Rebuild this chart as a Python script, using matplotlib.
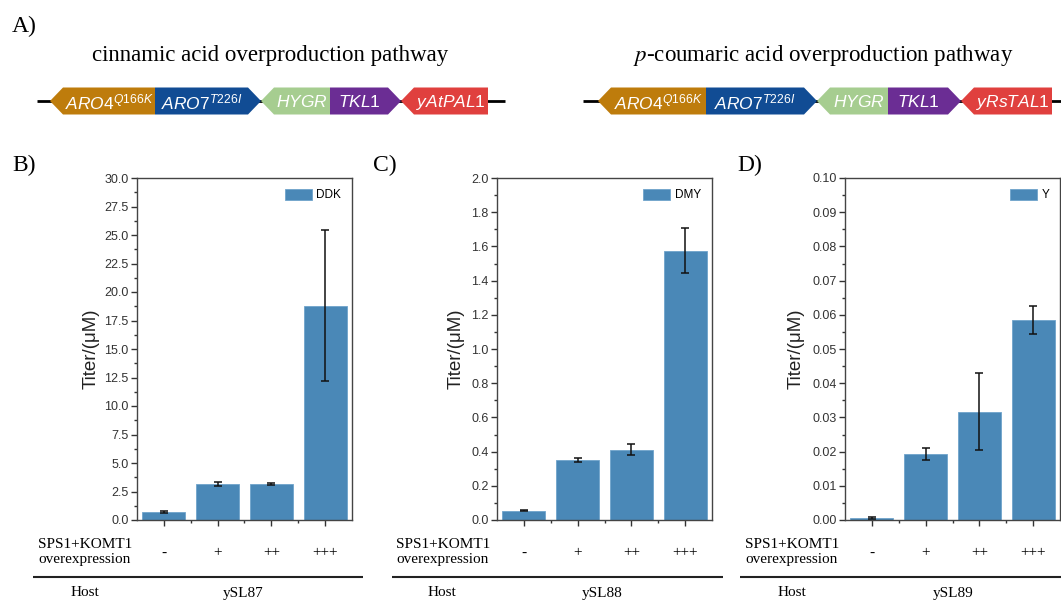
import matplotlib
matplotlib.use("Agg")
import matplotlib.pyplot as plt
from matplotlib.patches import Polygon
from matplotlib.ticker import MultipleLocator, FormatStrFormatter
import numpy as np

# ---------------- data ----------------
levels = ['-', '+', '++', '+++']
ddk_mean = [0.70, 3.15, 3.15, 18.8]
ddk_err = [0.10, 0.15, 0.12, 6.6]
dmy_mean = [0.055, 0.350, 0.410, 1.575]
dmy_err = [0.005, 0.010, 0.032, 0.130]
y_mean = [0.0005, 0.0193, 0.0317, 0.0585]
y_err = [0.0003, 0.0018, 0.0113, 0.0040]
hosts = ['ySL87', 'ySL88', 'ySL89']
products = ['DDK', 'DMY', 'Y']

gene_names_1 = [r'$\mathit{ARO4}^{\mathit{Q166K}}$', r'$\mathit{ARO7}^{\mathit{T226I}}$',
                r'$\mathit{HYGR}$', r'$\mathit{TKL1}$', r'$\mathit{yAtPAL1}$']
gene_names_2 = [r'$\mathit{ARO4}^{\mathit{Q166K}}$', r'$\mathit{ARO7}^{\mathit{T226I}}$',
                r'$\mathit{HYGR}$', r'$\mathit{TKL1}$', r'$\mathit{yRsTAL1}$']
gene_colors = ['#BE7C0C', '#114C94', '#A6CD90', '#6B2D94', '#E0403E']
gene_dirs = ['L', 'R', 'L', 'R', 'L']

# ---------------- style ----------------
plt.rcParams['font.family'] = ['Liberation Sans', 'DejaVu Sans']
plt.rcParams['mathtext.fontset'] = 'custom'
plt.rcParams['mathtext.it'] = 'Liberation Sans:italic'
plt.rcParams['mathtext.rm'] = 'Liberation Sans'
SERIF = ['Liberation Serif', 'DejaVu Serif']
BAR = '#4A88B7'
W, H = 1061, 602

fig = plt.figure(figsize=(W / 100, H / 100), dpi=100)

# overlay in pixel coordinates
ov = fig.add_axes([0, 0, 1, 1])
ov.set_xlim(0, W)
ov.set_ylim(H, 0)
ov.axis('off')

# ---------------- panel A ----------------
ov.text(12, 26, 'A)', fontsize=17, family=SERIF, va='center', ha='left')
ov.text(270, 55, 'cinnamic acid overproduction pathway', fontsize=16.5, family=SERIF,
        ha='center', va='center')
ov.text(823, 55, r'$\it{p}$-coumaric acid overproduction pathway', fontsize=16.5,
        family=SERIF, ha='center', va='center', math_fontfamily='stix')


def draw_construct(bounds, names, line_ext):
    yc, hh, head = 101, 13.5, 13
    ov.plot(line_ext, [yc, yc], color='black', lw=2, zorder=1, solid_capstyle='butt')
    for i, (nm, col, d) in enumerate(zip(names, gene_colors, gene_dirs)):
        a, b = bounds[i], bounds[i + 1]
        if d == 'L':
            pts = [(a, yc), (a + head, yc - hh), (b, yc - hh), (b, yc + hh), (a + head, yc + hh)]
            tx = (a + head + b) / 2
        else:
            pts = [(a, yc - hh), (b - head, yc - hh), (b, yc), (b - head, yc + hh), (a, yc + hh)]
            tx = (a + b - head) / 2
        ov.add_patch(Polygon(pts, closed=True, facecolor=col, edgecolor='none', zorder=2))
        ov.text(tx, yc + 1, nm, color='white', fontsize=12.5, ha='center', va='center', zorder=3)


draw_construct([50, 155, 261, 330, 401, 488], gene_names_1, [37, 505])
draw_construct([598, 706, 817, 888, 961, 1052], gene_names_2, [583, 1061])

# ---------------- panels B-D ----------------
panels = [
    dict(lab='B)', labx=12, left=137, mean=ddk_mean, err=ddk_err, ymax=30.0, major=2.5,
         fmt='%.1f', ylx=-0.172, host=hosts[0], prod=products[0], spsx=85, hostx=85,
         hx=243, line=(33, 363)),
    dict(lab='C)', labx=373, left=497, mean=dmy_mean, err=dmy_err, ymax=2.0, major=0.2,
         fmt='%.1f', ylx=-0.149, host=hosts[1], prod=products[1], spsx=443, hostx=442,
         hx=602, line=(392, 723)),
    dict(lab='D)', labx=737, left=845, mean=y_mean, err=y_err, ymax=0.10, major=0.01,
         fmt='%.2f', ylx=-0.186, host=hosts[2], prod=products[2], spsx=792, hostx=792,
         hx=953, line=(740, 1061)),
]
top, bottom, width = 178, 520, 215

x = np.arange(1, len(levels) + 1)
for p in panels:
    ax = fig.add_axes([p['left'] / W, (H - bottom) / H, width / W, (bottom - top) / H])
    ax.bar(x, p['mean'], width=0.8, color=BAR, edgecolor='#6FA3CB', linewidth=0.6,
           label=p['prod'], zorder=2)
    ax.errorbar(x, p['mean'], yerr=p['err'], fmt='none', ecolor='#111111', elinewidth=1.1,
                capsize=3, capthick=1.1, zorder=3)
    ax.set_xlim(0.5, 4.5)
    ax.set_ylim(0, p['ymax'])
    ax.yaxis.set_major_locator(MultipleLocator(p['major']))
    ax.yaxis.set_minor_locator(MultipleLocator(p['major'] / 2))
    ax.yaxis.set_major_formatter(FormatStrFormatter(p['fmt']))
    ax.set_xticks(x)
    ax.set_xticklabels([])
    ax.set_xticks([1.5, 2.5, 3.5], minor=True)
    ax.tick_params(axis='both', which='major', direction='out', length=4, width=1,
                   color='#333333', labelsize=9, labelcolor='#333333', pad=2)
    ax.tick_params(axis='both', which='minor', direction='out', length=2.5, width=1,
                   color='#333333')
    for s in ax.spines.values():
        s.set_color('#444444')
        s.set_linewidth(1.0)
    ax.set_ylabel('Titer/(μM)', fontsize=13.5, color='#222222')
    ax.yaxis.set_label_coords(p['ylx'], 0.5)
    ax.legend(loc='upper right', frameon=False, fontsize=8.5, handlelength=2.3,
              handleheight=1.1, handletextpad=0.4, borderaxespad=0.5)

    # labels
    ov.text(p['labx'], 165, p['lab'], fontsize=17, family=SERIF, va='center', ha='left')
    ov.text(p['spsx'], 552, 'SPS1+KOMT1\noverexpression', fontsize=11, family=SERIF,
            ha='center', va='center', linespacing=1.15)
    for xi, lv in zip(x, levels):
        px = p['left'] + (xi - 0.5) / 4.0 * width
        ov.text(px, 553, lv, fontsize=11, family=SERIF, ha='center', va='center')
    ov.plot(list(p['line']), [577, 577], color='#222222', lw=1.5, solid_capstyle='butt')
    ov.text(p['hostx'], 593, 'Host', fontsize=11, family=SERIF, ha='center', va='center')
    ov.text(p['hx'], 593, p['host'], fontsize=11, family=SERIF, ha='center', va='center')

fig.savefig('out.png', dpi=100)
